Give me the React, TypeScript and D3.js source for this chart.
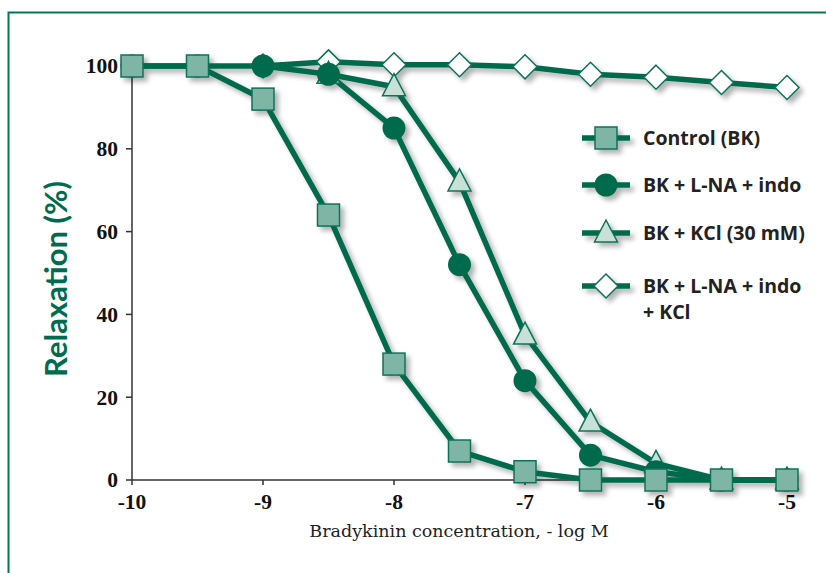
import React from "react";
import * as d3 from "d3";

const xValues = [-10, -9.5, -9, -8.5, -8, -7.5, -7, -6.5, -6, -5.5, -5];
const controlBK: (number | null)[] = [100, 100, 92, 64, 28, 7, 2, 0, 0, 0, 0];
const bkLnaIndo: (number | null)[] = [100, 100, 100, 98, 85, 52, 24, 6, 2, 0, 0];
const bkKcl: (number | null)[] = [null, null, null, 98, 95, 72, 35, 14, 4, 0, 0];
const bkLnaIndoKcl: (number | null)[] = [null, null, 100, 101, 100.3, 100.3, 99.8, 98, 97.3, 96, 94.8];
const xTicks = [-10, -9, -8, -7, -6, -5];
const yTicks = [0, 20, 40, 60, 80, 100];
const legendLabels = [["Control (BK)"], ["BK + L-NA + indo"], ["BK + KCl (30 mM)"], ["BK + L-NA + indo", "+ KCl"]];

const GREEN = "#006b4e";
const STROKE = "#0e7259";

export default function App() {
  const x = d3.scaleLinear().domain([-10, -5]).range([132, 787]);
  const y = d3.scaleLinear().domain([0, 100]).range([480, 66]);
  const line = d3
    .line<number | null>()
    .defined((d) => d !== null)
    .x((_, i) => x(xValues[i]))
    .y((d) => y(d as number));

  const series = [
    { key: "diamond", values: bkLnaIndoKcl },
    { key: "triangle", values: bkKcl },
    { key: "circle", values: bkLnaIndo },
    { key: "square", values: controlBK },
  ];

  const marker = (kind: string, cx: number, cy: number, k: string) => {
    if (kind === "square")
      return <rect key={k} x={cx - 11} y={cy - 11} width={22} height={22} fill="#7fb5a4" stroke={STROKE} strokeWidth={1.5} />;
    if (kind === "circle") return <circle key={k} cx={cx} cy={cy} r={11.5} fill={GREEN} />;
    if (kind === "triangle")
      return (
        <path key={k} d={`M${cx},${cy - 13}L${cx + 11.5},${cy + 9}L${cx - 11.5},${cy + 9}Z`} fill="#c8e0d6" stroke={STROKE} strokeWidth={1.5} />
      );
    return <path key={k} d={`M${cx},${cy - 12}L${cx + 12},${cy}L${cx},${cy + 12}L${cx - 12},${cy}Z`} fill="#fff" stroke={STROKE} strokeWidth={1.5} />;
  };

  const legendY = [138, 185, 233, 286];
  const legendOrder = ["square", "circle", "triangle", "diamond"];

  return (
    <svg width={826} height={573} style={{ position: "absolute", left: 0, top: 0, background: "#fff" }}>
      <defs>
        <filter id="sh" x="-20%" y="-20%" width="140%" height="140%">
          <feGaussianBlur in="SourceAlpha" stdDeviation="2.5" />
          <feOffset dx="4" dy="4" result="b" />
          <feComponentTransfer>
            <feFuncA type="linear" slope="0.3" />
          </feComponentTransfer>
          <feMerge>
            <feMergeNode />
            <feMergeNode in="SourceGraphic" />
          </feMerge>
        </filter>
      </defs>
      <rect x={8.5} y={12.5} width={830} height={580} fill="none" stroke={STROKE} strokeWidth={2} />

      <g stroke="#333" strokeWidth={1.5}>
        <line x1={x(-10)} x2={x(-10)} y1={y(100)} y2={y(0)} />
        <line x1={x(-10)} x2={x(-5)} y1={y(0)} y2={y(0)} />
        {yTicks.map((t) => (
          <line key={t} x1={x(-10) - 6} x2={x(-10)} y1={y(t)} y2={y(t)} />
        ))}
        {xTicks.map((t) => (
          <line key={t} x1={x(t)} x2={x(t)} y1={y(0)} y2={y(0) + 5} />
        ))}
      </g>
      <g fontFamily="Liberation Serif" fontWeight="bold" fontSize={21.5} fill="#111">
        {yTicks.map((t) => (
          <text key={t} x={118} y={y(t)} dy="0.34em" textAnchor="end">
            {t}
          </text>
        ))}
        {xTicks.map((t) => (
          <text key={t} x={x(t)} y={509} textAnchor="middle">
            {t}
          </text>
        ))}
      </g>
      <text x={459} y={537} textAnchor="middle" fontFamily="DejaVu Serif" fontSize={17.5} fill="#222">
        Bradykinin concentration, - log M
      </text>
      <text
        transform={`translate(67,279) rotate(-90)`}
        textAnchor="middle"
        fontFamily="Lato"
        fontWeight="bold"
        fontSize={31}
        fill={GREEN}
      >
        Relaxation (%)
      </text>

      <g filter="url(#sh)">
        {series.map((s) => (
          <path key={s.key} d={line(s.values) || ""} fill="none" stroke={GREEN} strokeWidth={5.5} strokeLinejoin="round" />
        ))}
        {series.map((s) =>
          s.values.map((v, i) => (v === null ? null : marker(s.key, x(xValues[i]), y(v), s.key + i)))
        )}
      </g>

      <g filter="url(#sh)">
        {legendOrder.map((k, i) => (
          <g key={k}>
            <line x1={582} x2={630} y1={legendY[i]} y2={legendY[i]} stroke={GREEN} strokeWidth={5.5} />
            {marker(k, 606, legendY[i], "l" + k)}
          </g>
        ))}
      </g>
      <g fontFamily="Open Sans" fontWeight="bold" fontSize={19.5} fill="#222">
        {legendLabels.map((lines, i) =>
          lines.map((t, j) => (
            <text key={i + "-" + j} x={643} y={legendY[i] + j * 26} dy="0.35em">
              {t}
            </text>
          ))
        )}
      </g>
    </svg>
  );
}
